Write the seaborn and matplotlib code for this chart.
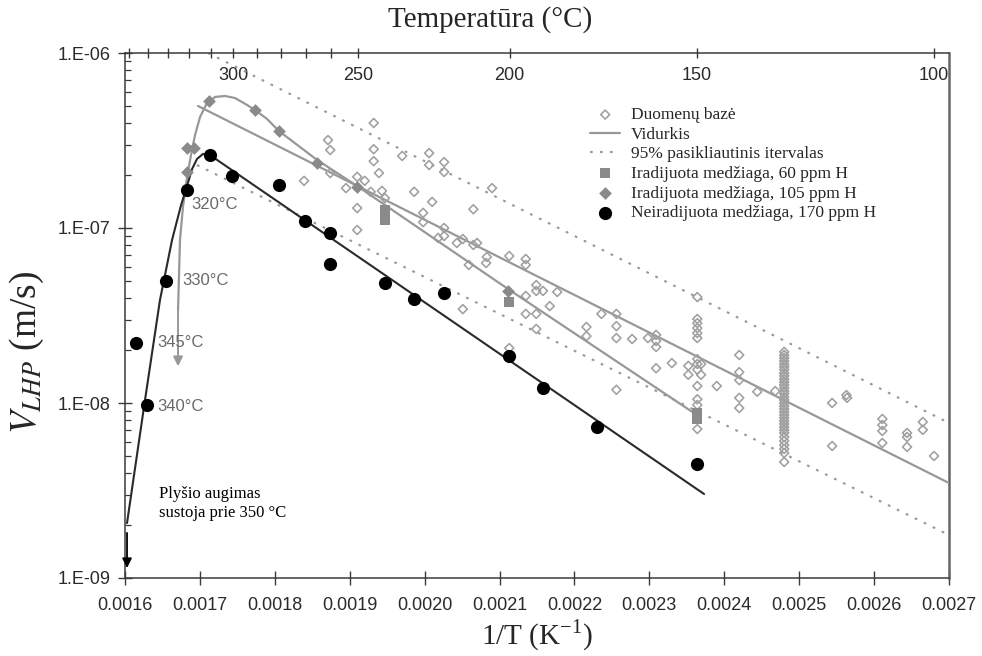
import numpy as np
import matplotlib
matplotlib.use("Agg")
import matplotlib.pyplot as plt
import seaborn as sns
from matplotlib.ticker import FuncFormatter, FixedLocator, LogLocator, NullFormatter

# ---------------- data ----------------
# database of crack velocities (1/T in 1/K, V in m/s)
db_inv_t = [0.001839, 0.001871, 0.001874, 0.001874, 0.001895, 0.001910, 0.001920, 0.001910,
            0.001910, 0.001932, 0.001932, 0.001932, 0.001939, 0.001928, 0.001943, 0.001947,
            0.001970, 0.001986, 0.002006, 0.002006, 0.001998, 0.001998, 0.002010, 0.002026,
            0.002026, 0.002026, 0.002026, 0.002018, 0.002043, 0.002051, 0.002065, 0.002070,
            0.002065, 0.002090, 0.002059, 0.002051, 0.002083, 0.002082, 0.002113, 0.002135,
            0.002135, 0.002149, 0.002149, 0.002158, 0.002177, 0.002135, 0.002167, 0.002135,
            0.002149, 0.002149, 0.002113, 0.002216, 0.002216, 0.002236, 0.002256, 0.002256,
            0.002256, 0.002277, 0.002298, 0.002309, 0.002309, 0.002309, 0.002330, 0.002309,
            0.002256, 0.002364, 0.002364, 0.002364, 0.002364, 0.002364, 0.002364, 0.002364,
            0.002364, 0.002352, 0.002369, 0.002364, 0.002352, 0.002369, 0.002364, 0.002364,
            0.002364, 0.002364, 0.002390, 0.002420, 0.002420, 0.002420, 0.002420, 0.002420,
            0.002444, 0.002468, 0.002544, 0.002544, 0.002563, 0.002564, 0.002611, 0.002611,
            0.002611, 0.002611, 0.002644, 0.002644, 0.002644, 0.002665, 0.002665, 0.002680]
db_v = [1.86e-7, 3.18e-7, 2.79e-7, 2.06e-7, 1.69e-7, 1.96e-7, 1.86e-7, 1.30e-7,
        9.74e-8, 3.98e-7, 2.82e-7, 2.41e-7, 2.06e-7, 1.61e-7, 1.63e-7, 1.48e-7,
        2.58e-7, 1.61e-7, 2.68e-7, 2.29e-7, 1.22e-7, 1.08e-7, 1.41e-7, 2.38e-7,
        2.09e-7, 1.00e-7, 9.00e-8, 8.77e-8, 8.21e-8, 8.65e-8, 8.00e-8, 8.21e-8,
        1.28e-7, 1.69e-7, 6.15e-8, 3.44e-8, 6.83e-8, 6.31e-8, 6.92e-8, 6.65e-8,
        6.15e-8, 4.72e-8, 4.37e-8, 4.37e-8, 4.31e-8, 4.09e-8, 3.58e-8, 3.23e-8,
        3.23e-8, 2.65e-8, 2.06e-8, 2.72e-8, 2.41e-8, 3.23e-8, 3.23e-8, 2.75e-8,
        2.35e-8, 2.32e-8, 2.35e-8, 2.45e-8, 2.26e-8, 2.09e-8, 1.69e-8, 1.58e-8,
        1.19e-8, 4.03e-8, 3.02e-8, 2.86e-8, 2.68e-8, 2.51e-8, 2.35e-8, 1.78e-8,
        1.67e-8, 1.63e-8, 1.67e-8, 1.55e-8, 1.45e-8, 1.45e-8, 1.25e-8, 1.05e-8,
        9.74e-9, 7.10e-9, 1.25e-8, 1.88e-8, 1.50e-8, 1.35e-8, 1.07e-8, 9.36e-9,
        1.16e-8, 1.17e-8, 1.00e-8, 5.68e-9, 1.11e-8, 1.07e-8, 8.11e-9, 7.48e-9,
        6.92e-9, 5.91e-9, 6.74e-9, 6.39e-9, 5.61e-9, 7.79e-9, 7.02e-9, 4.98e-9]
# dense set of database tests at 130 degC
db130_inv_t = 0.002480
db130_v = [1.96e-8, 1.88e-8, 1.81e-8, 1.74e-8, 1.67e-8, 1.61e-8, 1.55e-8, 1.48e-8,
           1.43e-8, 1.37e-8, 1.32e-8, 1.27e-8, 1.22e-8, 1.17e-8, 1.13e-8, 1.08e-8,
           1.04e-8, 1.00e-8, 9.61e-9, 9.24e-9, 8.88e-9, 8.54e-9, 8.21e-9, 7.89e-9,
           7.59e-9, 7.29e-9, 7.02e-9, 6.74e-9, 6.39e-9, 6.07e-9, 5.75e-9, 5.46e-9,
           5.18e-9, 4.60e-9]

# mean line and 95 % confidence bounds
mean_inv_t = [0.0016975, 0.0027]
mean_v = [4.98e-7, 3.49e-9]
upper_inv_t = [0.0017108, 0.0027]
upper_v = [1.0e-6, 7.69e-9]
lower_inv_t = [0.0016961, 0.0027]
lower_v = [2.29e-7, 1.76e-9]

# irradiated material, 60 ppm H
ir60_inv_t = [0.0019471, 0.0019471, 0.0021127, 0.0023637, 0.0023637]
ir60_v = [1.27e-7, 1.11e-7, 3.78e-8, 8.77e-9, 8.11e-9]

# irradiated material, 105 ppm H
ir105_inv_t = [0.0016828, 0.0016921, 0.0016828, 0.0017121, 0.0017736, 0.0018056,
               0.0018563, 0.0019097, 0.0021114]
ir105_v = [2.86e-7, 2.86e-7, 2.09e-7, 5.32e-7, 4.72e-7, 3.58e-7, 2.35e-7, 1.71e-7, 4.37e-8]

# non-irradiated material, 170 ppm H
ni_inv_t = [0.0016147, 0.0016294, 0.0016547, 0.0016828, 0.0017135, 0.0017429, 0.0018056,
            0.0018403, 0.0018737, 0.0018737, 0.0019471, 0.0019858, 0.0020259, 0.0021127,
            0.0021581, 0.0022302, 0.0023637]
ni_v = [2.20e-8, 9.75e-9, 4.98e-8, 1.65e-7, 2.61e-7, 1.98e-7, 1.76e-7, 1.10e-7, 9.37e-8,
        6.22e-8, 4.85e-8, 3.93e-8, 4.25e-8, 1.86e-8, 1.22e-8, 7.29e-9, 4.48e-9]

# trend curves through the two test series
fit_ni_inv_t = [0.0016027, 0.0016267, 0.0016467, 0.0016628, 0.0016748, 0.0016828,
                0.0016895, 0.0016961, 0.0017041, 0.0017135, 0.002373]
fit_ni_v = [2.06e-9, 1.04e-8, 3.88e-8, 8.54e-8, 1.35e-7, 1.74e-7, 2.17e-7, 2.48e-7,
            2.65e-7, 2.61e-7, 3.02e-9]
fit_105_inv_t = [0.0016708, 0.0016734, 0.0016774, 0.0016828, 0.0016881, 0.0016935,
                 0.0017001, 0.0017081, 0.0017202, 0.0017335, 0.0017469, 0.0017629,
                 0.0017736, 0.0017896, 0.0018056, 0.0018563, 0.0019097, 0.0021114,
                 0.0023637]
fit_105_v = [3.40e-8, 8.54e-8, 1.32e-7, 1.95e-7, 2.61e-7, 3.40e-7, 4.30e-7, 5.05e-7,
             5.61e-7, 5.68e-7, 5.53e-7, 5.05e-7, 4.72e-7, 4.20e-7, 3.58e-7, 2.45e-7,
             1.74e-7, 4.48e-8, 8.53e-9]

# arrows: growth stops (black) and drop of the 105 ppm curve (grey)
stop_arrow_inv_t = 0.0016027
stop_arrow_v = (1.81e-9, 1.14e-9)
drop_arrow_inv_t = 0.0016708
drop_arrow_v = (3.40e-8, 1.62e-8)

x_ticks = [0.0016, 0.0017, 0.0018, 0.0019, 0.0020, 0.0021, 0.0022, 0.0023, 0.0024,
           0.0025, 0.0026, 0.0027]
y_ticks = [1e-9, 1e-8, 1e-7, 1e-6]
temp_major = [300, 250, 200, 150, 100]
temp_minor = [350, 340, 330, 320, 310, 290, 280, 270, 260]

# temperature labels placed next to non-irradiated points (index, dx, dy in px)
temp_notes = [("320°C", 3, 4, -15), ("330°C", 2, 16, 0), ("345°C", 0, 21, 1), ("340°C", 1, 10, -2)]

# ---------------- style ----------------
sns.set_theme(style="white")
plt.rcParams["font.family"] = ["Liberation Sans", "DejaVu Sans"]
plt.rcParams["mathtext.fontset"] = "stix"
SERIF = ["Liberation Serif", "DejaVu Serif"]
GREY = "#989898"
MARK = "#8a8a8a"
AXC = "#3a3a3a"

W, H = 982, 656
fig = plt.figure(figsize=(W / 100, H / 100), dpi=100)
L, R, T, B = 125, 949, 53, 578
ax = fig.add_axes([L / W, 1 - B / H, (R - L) / W, (B - T) / H])
ax.set_yscale("log")

# confidence band and mean
sns.lineplot(x=upper_inv_t, y=upper_v, ax=ax, color=GREY, lw=1.5, linestyle=(0, (1.3, 3.5)),
             label="95% pasikliautinis itervalas", zorder=2)
sns.lineplot(x=lower_inv_t, y=lower_v, ax=ax, color=GREY, lw=1.5, linestyle=(0, (1.3, 3.5)),
             zorder=2)
sns.lineplot(x=mean_inv_t, y=mean_v, ax=ax, color=GREY, lw=1.6, label="Vidurkis", zorder=3)

# database
sns.scatterplot(x=db_inv_t + [db130_inv_t] * len(db130_v), y=db_v + db130_v, ax=ax,
                marker="D", s=21, facecolors="none", edgecolors="#a0a0a0", linewidth=1.15,
                label="Duomenų bazė", zorder=4)

# fitted curves
sns.lineplot(x=fit_105_inv_t, y=fit_105_v, ax=ax, color=GREY, lw=1.6, sort=False,
             estimator=None, zorder=5)
sns.lineplot(x=fit_ni_inv_t, y=fit_ni_v, ax=ax, color="#2a2a2a", lw=1.5, sort=False,
             estimator=None, zorder=5)

# test series
sns.scatterplot(x=ir60_inv_t, y=ir60_v, ax=ax, marker="s", s=50, color=MARK, linewidth=0,
                label="Iradijuota medžiaga, 60 ppm H", zorder=6)
sns.scatterplot(x=ir105_inv_t, y=ir105_v, ax=ax, marker="D", s=42, color=MARK, linewidth=0,
                label="Iradijuota medžiaga, 105 ppm H", zorder=6)
sns.scatterplot(x=ni_inv_t, y=ni_v, ax=ax, marker="o", s=90, color="black", linewidth=0,
                label="Neiradijuota medžiaga, 170 ppm H", zorder=7)

# arrows
ax.annotate("", xy=(stop_arrow_inv_t, stop_arrow_v[1]), xytext=(stop_arrow_inv_t, stop_arrow_v[0]),
            arrowprops=dict(arrowstyle="-|>", color="black", lw=1.3, mutation_scale=14,
                            shrinkA=0, shrinkB=0), zorder=8)
ax.annotate("", xy=(drop_arrow_inv_t, drop_arrow_v[1]), xytext=(drop_arrow_inv_t, drop_arrow_v[0]),
            arrowprops=dict(arrowstyle="-|>", color=GREY, lw=1.4, mutation_scale=14,
                            shrinkA=0, shrinkB=0), zorder=8)

# temperature notes
for text, idx, dx, dy in temp_notes:
    ax.annotate(text, xy=(ni_inv_t[idx], ni_v[idx]), xytext=(dx, dy), textcoords="offset pixels",
                ha="left", va="center", fontsize=12, color="#6a6a6a", zorder=9)

ax.text(0.041, 0.176, "Plyšio augimas\nsustoja prie 350 °C", transform=ax.transAxes,
        ha="left", va="top", fontsize=12, family=SERIF, color="black", linespacing=1.25)

# ---------------- axes ----------------
ax.set_xlim(0.0016, 0.0027)
ax.set_ylim(1e-9, 1e-6)
ax.xaxis.set_major_locator(FixedLocator(x_ticks))
ax.xaxis.set_major_formatter(FuncFormatter(lambda v, _: f"{v:.4f}"))
ax.yaxis.set_major_locator(FixedLocator(y_ticks))
ax.yaxis.set_major_formatter(FuncFormatter(lambda v, _: f"{v:.0E}".replace("E", ".E")))
ax.yaxis.set_minor_locator(LogLocator(base=10, subs=np.arange(2, 10)))
ax.yaxis.set_minor_formatter(NullFormatter())
ax.tick_params(axis="x", which="major", direction="inout", length=9.5, width=1.0,
               color=AXC, labelcolor="#2a2a2a", labelsize=13, pad=9, bottom=True)
ax.tick_params(axis="y", which="major", direction="inout", length=10, width=1.0,
               color=AXC, labelcolor="#2a2a2a", labelsize=13, pad=5.5, left=True)
ax.tick_params(axis="y", which="minor", direction="in", length=4, width=0.9, color=AXC, left=True)
for side in ["left", "bottom", "top"]:
    ax.spines[side].set_color(AXC)
    ax.spines[side].set_linewidth(1.1)
ax.spines["right"].set_color("#666666")
ax.spines["right"].set_linewidth(1.8)
ax.set_xlabel("")
ax.set_ylabel("")


def inv_to_c(x):
    x = np.asarray(x, dtype=float)
    with np.errstate(divide="ignore", invalid="ignore"):
        return 1.0 / x - 273.15


def c_to_inv(t):
    t = np.asarray(t, dtype=float)
    with np.errstate(divide="ignore", invalid="ignore"):
        return 1.0 / (t + 273.15)


sec = ax.secondary_xaxis("top", functions=(inv_to_c, c_to_inv))
sec.set_xticks(temp_major)
sec.set_xticks(temp_minor, minor=True)
sec.xaxis.set_major_formatter(FuncFormatter(lambda v, _: f"{v:.0f}"))
sec.xaxis.set_minor_formatter(NullFormatter())
sec.tick_params(which="both", direction="inout", length=7, width=1.0, color=AXC,
                labelcolor="#2a2a2a", labelsize=13, pad=-26)
sec.spines["top"].set_visible(False)

# axis titles
fig.text(490 / W, 1 - 20 / H, "Temperatūra (°C)", ha="center", va="center",
         fontsize=21, family=SERIF)
fig.text(537 / W, 1 - 636 / H, r"1/T (K$^{\mathregular{-1}}$)", ha="center", va="center",
         fontsize=21, family=SERIF)
fig.text(27 / W, 1 - 352 / H, r"$V_{LHP}$ (m/s)", ha="center", va="center",
         rotation=90, fontsize=27, family=SERIF)

# legend
handles, labels = ax.get_legend_handles_labels()
lookup = dict(zip(labels, handles))
order = ["Duomenų bazė", "Vidurkis", "95% pasikliautinis itervalas",
         "Iradijuota medžiaga, 60 ppm H", "Iradijuota medžiaga, 105 ppm H",
         "Neiradijuota medžiaga, 170 ppm H"]
ax.legend([lookup[k] for k in order], order, loc="upper left",
          bbox_to_anchor=(590 / W, 1 - 107 / H), bbox_transform=fig.transFigure,
          frameon=False, borderpad=0, borderaxespad=0, handlelength=1.75,
          handletextpad=0.6, labelspacing=0.2,
          prop={"family": SERIF, "size": 12.5})

fig.savefig("out.png", dpi=100)
